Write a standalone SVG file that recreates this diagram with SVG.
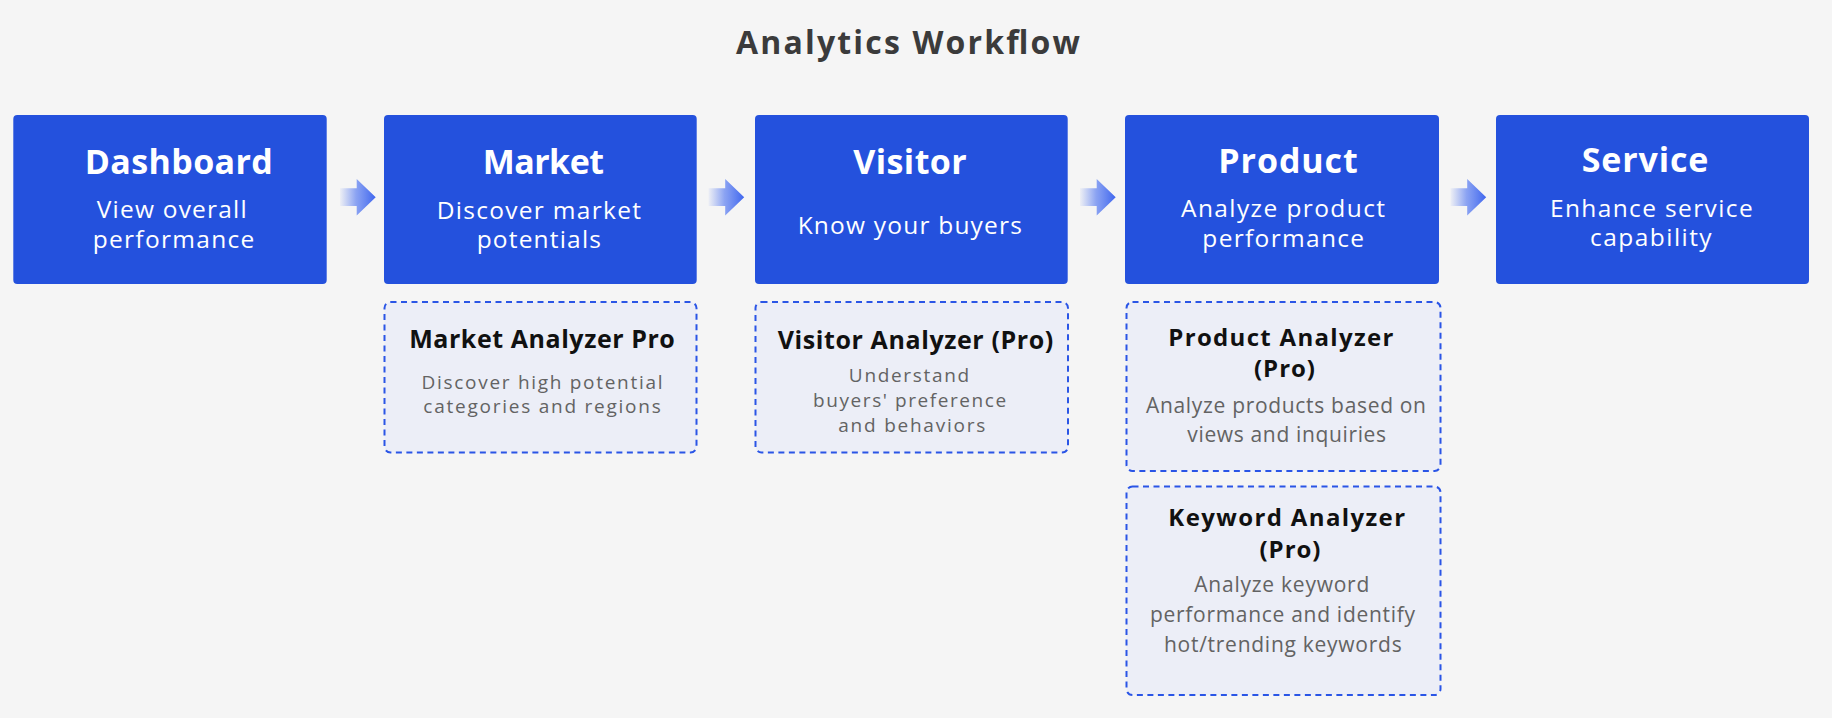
<svg xmlns="http://www.w3.org/2000/svg" xmlns:xlink="http://www.w3.org/1999/xlink" width="1832" height="718" viewBox="0 0 1832 718">
  <defs>
    <linearGradient id="arrowGrad" x1="0" y1="0" x2="1" y2="0">
      <stop offset="0" stop-color="#5a7ef2" stop-opacity="0.05"/>
      <stop offset="0.45" stop-color="#5277f1" stop-opacity="0.65"/>
      <stop offset="1" stop-color="#3f66ee" stop-opacity="1"/>
    </linearGradient>
    <path id="arrowShape" d="M0,188.3 H16.7 V179 L35.7,197.3 L16.7,215.6 V206 H0 Z" fill="url(#arrowGrad)"/>
    <style>
      .stage { fill: #2451dd; }
      .tool { fill: #eceef7; stroke: #2a55e6; stroke-width: 2; stroke-dasharray: 6 4.5; }
      .page-title { font-family: "Open Sans", "Liberation Sans", sans-serif; font-weight: 700; font-size: 32px; fill: #3b3b3b; text-anchor: middle; }
      .stage-title { font-family: "Open Sans", "Liberation Sans", sans-serif; font-weight: 700; font-size: 34px; fill: #ffffff; text-anchor: middle; }
      .stage-sub { font-family: "Open Sans", "Liberation Sans", sans-serif; font-weight: 400; font-size: 24.5px; fill: #ffffff; text-anchor: middle; }
      .tool-title { font-family: "Open Sans", "Liberation Sans", sans-serif; font-weight: 700; font-size: 25px; fill: #111111; text-anchor: middle; }
      .tool-title-s { font-family: "Open Sans", "Liberation Sans", sans-serif; font-weight: 700; font-size: 24px; fill: #111111; text-anchor: middle; }
      .tool-desc { font-family: "Open Sans", "Liberation Sans", sans-serif; font-weight: 400; font-size: 19px; fill: #636363; text-anchor: middle; }
      .tool-desc-l { font-family: "Open Sans", "Liberation Sans", sans-serif; font-weight: 400; font-size: 21px; fill: #636363; text-anchor: middle; }
    </style>
  </defs>

  <rect x="0" y="0" width="1832" height="718" fill="#f5f5f5"/>

  <text class="page-title" x="908" y="54.3" textLength="344">Analytics Workflow</text>

  <g id="connectors">
    <use xlink:href="#arrowShape" x="340" y="0"/>
    <use xlink:href="#arrowShape" x="708.5" y="0"/>
    <use xlink:href="#arrowShape" x="1080" y="0"/>
    <use xlink:href="#arrowShape" x="1450.5" y="0"/>
  </g>

  <g id="node-dashboard">
    <rect class="stage" x="13.3" y="115" width="313.4" height="169" rx="4"/>
    <text class="stage-title" x="178.8" y="174" textLength="188">Dashboard</text>
    <text class="stage-sub" x="171.7" y="218" textLength="150">View overall</text>
    <text class="stage-sub" x="173.5" y="247.5" textLength="161.6">performance</text>
  </g>

  <g id="node-market">
    <rect class="stage" x="384" y="115" width="312.7" height="169" rx="4"/>
    <text class="stage-title" x="543.3" y="174" textLength="121.3">Market</text>
    <text class="stage-sub" x="538.8" y="218.5" textLength="204.3">Discover market</text>
    <text class="stage-sub" x="538.8" y="248" textLength="124.3">potentials</text>
  </g>

  <g id="node-visitor">
    <rect class="stage" x="755" y="115" width="312.7" height="169" rx="4"/>
    <text class="stage-title" x="910" y="174" textLength="113.4">Visitor</text>
    <text class="stage-sub" x="909.8" y="234.3" textLength="224.3">Know your buyers</text>
  </g>

  <g id="node-product">
    <rect class="stage" x="1125" y="115" width="314" height="169" rx="4"/>
    <text class="stage-title" x="1288" y="173.3" textLength="139.4">Product</text>
    <text class="stage-sub" x="1283" y="217.2" textLength="204">Analyze product</text>
    <text class="stage-sub" x="1283.2" y="246.8" textLength="161.7">performance</text>
  </g>

  <g id="node-service">
    <rect class="stage" x="1496" y="115" width="313" height="169" rx="4"/>
    <text class="stage-title" x="1645" y="171.7" textLength="126.6">Service</text>
    <text class="stage-sub" x="1651.3" y="216.8" textLength="202.7">Enhance service</text>
    <text class="stage-sub" x="1650.8" y="246.4" textLength="121.7">capability</text>
  </g>

  <g id="node-market-analyzer">
    <rect class="tool" x="384.5" y="302" width="312" height="150.5" rx="6"/>
    <text class="tool-title" x="542" y="348.3" textLength="265.7">Market Analyzer Pro</text>
    <text class="tool-desc" x="542" y="388.5" textLength="241">Discover high potential</text>
    <text class="tool-desc" x="542" y="413" textLength="237.4">categories and regions</text>
  </g>

  <g id="node-visitor-analyzer">
    <rect class="tool" x="755.5" y="302" width="312.5" height="150.5" rx="6"/>
    <text class="tool-title" x="915.5" y="349.3" textLength="275.5">Visitor Analyzer (Pro)</text>
    <text class="tool-desc" x="909" y="382.3" textLength="120.3">Understand</text>
    <text class="tool-desc" x="909.6" y="406.7" textLength="193">buyers' preference</text>
    <text class="tool-desc" x="911.8" y="431.7" textLength="147">and behaviors</text>
  </g>

  <g id="node-product-analyzer">
    <rect class="tool" x="1126.5" y="302" width="314" height="169" rx="6"/>
    <text class="tool-title-s" x="1280.8" y="345.5" textLength="225">Product Analyzer</text>
    <text class="tool-title-s" x="1284.5" y="377" textLength="61">(Pro)</text>
    <text class="tool-desc-l" x="1286" y="412.7" textLength="280">Analyze products based on</text>
    <text class="tool-desc-l" x="1286.7" y="441.7" textLength="198.7">views and inquiries</text>
  </g>

  <g id="node-keyword-analyzer">
    <rect class="tool" x="1126.5" y="486.5" width="314" height="208.5" rx="6"/>
    <text class="tool-title-s" x="1286.7" y="526.2" textLength="236.7">Keyword Analyzer</text>
    <text class="tool-title-s" x="1290" y="557.7" textLength="61">(Pro)</text>
    <text class="tool-desc-l" x="1281.8" y="591.7" textLength="175">Analyze keyword</text>
    <text class="tool-desc-l" x="1282.5" y="621.7" textLength="265">performance and identify</text>
    <text class="tool-desc-l" x="1282.8" y="651.7" textLength="237.7">hot/trending keywords</text>
  </g>
</svg>
